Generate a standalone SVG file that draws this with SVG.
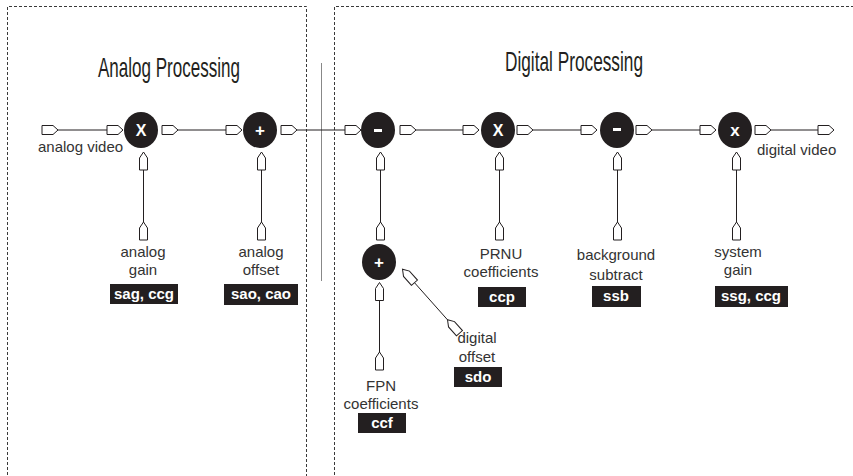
<svg xmlns="http://www.w3.org/2000/svg" xmlns:xlink="http://www.w3.org/1999/xlink" width="853" height="476" viewBox="0 0 853 476">
<style>
.frame{fill:none;stroke:#3a3a3a;stroke-width:1;stroke-dasharray:3,2}
.wire{fill:none;stroke:#231f20;stroke-width:1}
.port{fill:#fff;stroke:#231f20;stroke-width:1}
.op{fill:#231f20}
.sym{fill:#fff;font-family:"Liberation Sans",Arial,sans-serif;font-weight:bold;text-anchor:middle}
.lbl{fill:#333;font-family:"Liberation Sans",Arial,sans-serif;font-size:15px;text-anchor:middle}
.title{fill:#231f20;font-family:"Liberation Sans",Arial,sans-serif;font-size:28px}
.tag{fill:#231f20}
.tagt{fill:#fff;font-family:"Liberation Sans",Arial,sans-serif;font-weight:bold;font-size:15px;text-anchor:middle}
</style>
<defs>
<path id="ph" class="port" d="M0,-4.5 H11 L16,0 L11,4.5 H0 Z"/>
<path id="pv" class="port" d="M-4,9 V-3 L0,-9 L4,-3 V9 Z"/>
</defs>
<rect width="853" height="476" fill="#fff"/>
<g id="frames">
<path class="frame" d="M7.5,480 V6.5 H306.5 V480"/>
<path class="frame" d="M334.5,480 V6.5 H860"/>
<line x1="321.5" y1="63" x2="321.5" y2="281" stroke="#888" stroke-width="1"/>
</g>
<g id="titles">
<text class="title" x="98" y="77" textLength="142" lengthAdjust="spacingAndGlyphs">Analog Processing</text>
<text class="title" x="505" y="71" textLength="138" lengthAdjust="spacingAndGlyphs">Digital Processing</text>
</g>
<g id="connectors">
<path class="wire" d="M58,130 H107 M178,130 H226 M297,130 H345 M416,130 H463 M533,130 H581 M652,130 H700 M771,130 H818"/>
<path class="wire" d="M143.5,170 V222 M261.5,170 V222 M380.5,170 V222 M499.5,170 V222 M617.5,170 V222 M736.5,170 V222 M379.5,300 V352 M414.5,282.7 L447.5,319.8"/>
<g id="ports-h">
<use href="#ph" x="42" y="130"/>
<use href="#ph" x="107" y="130"/>
<use href="#ph" x="162" y="130"/>
<use href="#ph" x="226" y="130"/>
<use href="#ph" x="281" y="130"/>
<use href="#ph" x="345" y="130"/>
<use href="#ph" x="400" y="130"/>
<use href="#ph" x="463" y="130"/>
<use href="#ph" x="517" y="130"/>
<use href="#ph" x="581" y="130"/>
<use href="#ph" x="636" y="130"/>
<use href="#ph" x="700" y="130"/>
<use href="#ph" x="755" y="130"/>
<use href="#ph" x="818" y="130"/>
</g>
<g id="ports-v">
<use href="#pv" x="143.5" y="161"/>
<use href="#pv" x="143.5" y="231"/>
<use href="#pv" x="261.5" y="161"/>
<use href="#pv" x="261.5" y="231"/>
<use href="#pv" x="380.5" y="161"/>
<use href="#pv" x="380.5" y="231"/>
<use href="#pv" x="499.5" y="161"/>
<use href="#pv" x="499.5" y="231"/>
<use href="#pv" x="617.5" y="161"/>
<use href="#pv" x="617.5" y="231"/>
<use href="#pv" x="736.5" y="161"/>
<use href="#pv" x="736.5" y="231"/>
<use href="#pv" x="379.5" y="291.5"/>
<use href="#pv" x="379.5" y="361"/>
<use href="#pv" transform="translate(408.5,276) rotate(-41.7)"/>
<use href="#pv" transform="translate(453.5,326.5) rotate(-41.7)"/>
</g>
</g>
<g id="mul-analog">
<ellipse class="op" cx="141" cy="130" rx="17" ry="18"/>
<text class="sym" x="141" y="136" font-size="16">X</text>
</g>
<g id="add-analog">
<ellipse class="op" cx="260" cy="130" rx="17" ry="18"/>
<text class="sym" x="260" y="136" font-size="17">+</text>
</g>
<g id="sub-fpn">
<ellipse class="op" cx="378" cy="130" rx="17" ry="18"/>
<rect x="374" y="129" width="8" height="3" fill="#fff"/>
</g>
<g id="mul-prnu">
<ellipse class="op" cx="498" cy="130" rx="17" ry="18"/>
<text class="sym" x="498" y="136" font-size="16">X</text>
</g>
<g id="sub-bg">
<ellipse class="op" cx="617" cy="130" rx="17" ry="18"/>
<rect x="613" y="128" width="8" height="3" fill="#fff"/>
</g>
<g id="mul-sys">
<ellipse class="op" cx="735" cy="130" rx="17" ry="18"/>
<text class="sym" x="735" y="136" font-size="17">x</text>
</g>
<g id="add-digital">
<ellipse class="op" cx="379" cy="262" rx="17" ry="18"/>
<text class="sym" x="379" y="268" font-size="17">+</text>
</g>
<g id="in-video">
<text class="lbl" x="38" y="152" style="text-anchor:start">analog video</text>
</g>
<g id="out-video">
<text class="lbl" x="757" y="155" style="text-anchor:start">digital video</text>
</g>
<g id="analog-gain">
<text class="lbl" x="143" y="257">analog</text>
<text class="lbl" x="143" y="275">gain</text>
<rect class="tag" x="110" y="284" width="68" height="20"/>
<text class="tagt" x="144" y="299">sag, ccg</text>
</g>
<g id="analog-offset">
<text class="lbl" x="261" y="257">analog</text>
<text class="lbl" x="261" y="275">offset</text>
<rect class="tag" x="224" y="284" width="74" height="21"/>
<text class="tagt" x="261" y="299">sao, cao</text>
</g>
<g id="prnu">
<text class="lbl" x="501" y="259">PRNU</text>
<text class="lbl" x="501" y="277">coefficients</text>
<rect class="tag" x="478" y="287" width="48" height="20"/>
<text class="tagt" x="502" y="302">ccp</text>
</g>
<g id="background">
<text class="lbl" x="616" y="260">background</text>
<text class="lbl" x="616" y="280">subtract</text>
<rect class="tag" x="592" y="286" width="49" height="21"/>
<text class="tagt" x="616" y="301">ssb</text>
</g>
<g id="system-gain">
<text class="lbl" x="738" y="257">system</text>
<text class="lbl" x="738" y="275">gain</text>
<rect class="tag" x="715" y="286" width="73" height="21"/>
<text class="tagt" x="751" y="301">ssg, ccg</text>
</g>
<g id="digital-offset">
<text class="lbl" x="477" y="343">digital</text>
<text class="lbl" x="477" y="362">offset</text>
<rect class="tag" x="454" y="367" width="48" height="20"/>
<text class="tagt" x="478" y="382">sdo</text>
</g>
<g id="fpn">
<text class="lbl" x="381" y="391">FPN</text>
<text class="lbl" x="381" y="409">coefficients</text>
<rect class="tag" x="358" y="413" width="48" height="20"/>
<text class="tagt" x="382" y="428">ccf</text>
</g>
</svg>
